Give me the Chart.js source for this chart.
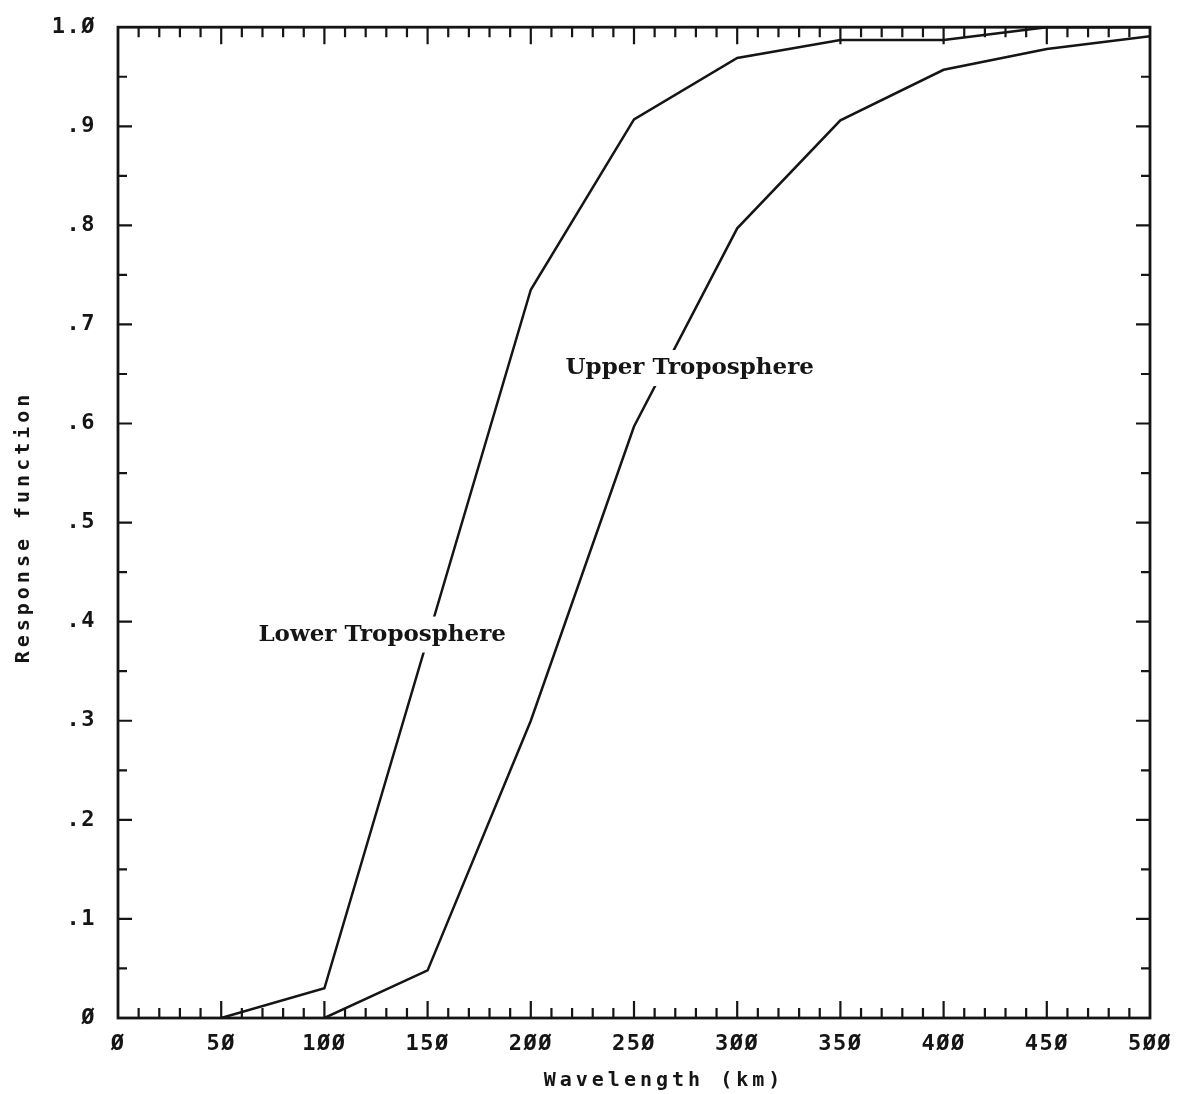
<!DOCTYPE html>
<html>
<head>
<meta charset="utf-8">
<script src="https://cdn.jsdelivr.net/npm/chart.js@4.4.1/dist/chart.umd.min.js"></script>
<style>
  body { margin: 0; background: #fff; }
  canvas { display: block; }
</style>
</head>
<body>
<canvas id="myChart" width="1182" height="1094"></canvas>
<script>
// wavelength (km) and response values
let lowerX = [50, 100, 200, 250, 300, 350, 400, 450, 500];
let lowerY = [0, 0.03, 0.735, 0.907, 0.969, 0.987, 0.987, 1.0, 1.0];

let upperX = [100, 150, 200, 250, 300, 350, 400, 450, 500];
let upperY = [0, 0.048, 0.30, 0.597, 0.797, 0.906, 0.957, 0.978, 0.991];

let labelNames = ["Lower Troposphere", "Upper Troposphere"];
let labelAt = [[128, 0.387], [277, 0.656]];

let xTicks = ["Ø", "5Ø", "1ØØ", "15Ø", "2ØØ", "25Ø", "3ØØ", "35Ø", "4ØØ", "45Ø", "5ØØ"];
let yTicks = ["Ø", ".1", ".2", ".3", ".4", ".5", ".6", ".7", ".8", ".9", "1.Ø"];

const ink = '#151515';

const toPoints = (xs, ys) => xs.map((x, i) => ({x: x, y: ys[i]}));

// frame, inward ticks, labels and axis titles
const decor = {
    id: 'decor',
    beforeDraw(chart) {
        chart.ctx.letterSpacing = '1.5px';
    },
    afterDraw(chart) {
        const ctx = chart.ctx;
        const xs = chart.scales.x, ys = chart.scales.y;
        const {left, right, top, bottom} = chart.chartArea;
        ctx.save();
        ctx.strokeStyle = ink;
        ctx.lineWidth = 2.8;
        ctx.strokeRect(left, top, right - left, bottom - top);

        ctx.lineWidth = 2.2;
        ctx.beginPath();
        for (let v = 10; v < 500; v += 10) {
            let px = xs.getPixelForValue(v);
            let len = v % 50 === 0 ? 17 : 10;
            ctx.moveTo(px, bottom); ctx.lineTo(px, bottom - len);
            ctx.moveTo(px, top); ctx.lineTo(px, top + len);
        }
        for (let k = 1; k < 20; k++) {
            let py = ys.getPixelForValue(k * 0.05);
            let len = k % 2 === 0 ? 14 : 9;
            ctx.moveTo(left, py); ctx.lineTo(left + len, py);
            ctx.moveTo(right, py); ctx.lineTo(right - len, py);
        }
        ctx.stroke();

        // curve labels on white boxes
        ctx.letterSpacing = '0px';
        ctx.font = 'bold 23px "DejaVu Serif"';
        ctx.textAlign = 'center';
        ctx.textBaseline = 'middle';
        labelNames.forEach((name, i) => {
            let cx = xs.getPixelForValue(labelAt[i][0]);
            let cy = ys.getPixelForValue(labelAt[i][1]);
            let w = ctx.measureText(name).width;
            ctx.fillStyle = '#fff';
            ctx.fillRect(cx - w / 2 - 6, cy - 18, w + 12, 36);
            ctx.fillStyle = ink;
            ctx.fillText(name, cx, cy);
        });

        // axis titles
        ctx.letterSpacing = '4px';
        ctx.font = 'bold 20px "DejaVu Sans Mono"';
        ctx.fillText('Wavelength (km)', 664, 1081);
        ctx.translate(24, 527);
        ctx.rotate(-Math.PI / 2);
        ctx.fillText('Response function', 0, 0);
        ctx.restore();
    }
};

new Chart(document.getElementById('myChart'), {
    type: 'line',
    data: {
        datasets: [{
            label: 'Lower Troposphere',
            data: toPoints(lowerX, lowerY),
            borderColor: ink,
            borderWidth: 2.5,
            pointRadius: 0,
            tension: 0
        }, {
            label: 'Upper Troposphere',
            data: toPoints(upperX, upperY),
            borderColor: ink,
            borderWidth: 2.5,
            pointRadius: 0,
            tension: 0
        }]
    },
    options: {
        responsive: false,
        animation: false,
        layout: { padding: { left: 0, right: 32, top: 24, bottom: 0 } },
        plugins: { legend: { display: false }, tooltip: { enabled: false } },
        scales: {
            x: {
                type: 'linear',
                min: 0,
                max: 500,
                afterFit: (s) => { s.height = 76; },
                grid: { display: false },
                border: { display: false },
                ticks: {
                    stepSize: 50,
                    maxRotation: 0,
                    padding: 5,
                    color: ink,
                    font: { family: 'DejaVu Sans Mono', size: 22, weight: 'bold' },
                    callback: (v) => xTicks[Math.round(v / 50)]
                }
            },
            y: {
                min: 0,
                max: 1,
                afterFit: (s) => { s.width = 118; },
                grid: { display: false },
                border: { display: false },
                ticks: {
                    stepSize: 0.1,
                    padding: 14,
                    color: ink,
                    font: { family: 'DejaVu Sans Mono', size: 22, weight: 'bold' },
                    callback: (v) => yTicks[Math.round(v * 10)]
                }
            }
        }
    },
    plugins: [decor]
});
</script>
</body>
</html>
